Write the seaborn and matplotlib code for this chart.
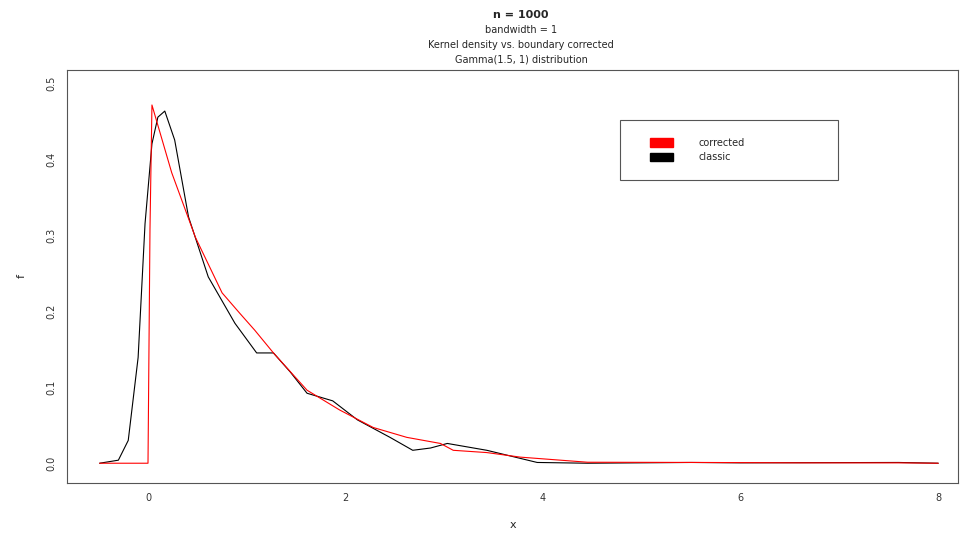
import numpy as np
import pandas as pd
import matplotlib
matplotlib.use("Agg")
import matplotlib.pyplot as plt
import seaborn as sns
from matplotlib.patches import Patch, Rectangle

# values
red_x = [-0.49, -0.01, 0.0, 0.02, 0.04, 0.24, 0.48, 0.75, 0.93, 1.08, 1.27, 1.61, 1.94,
         2.28, 2.62, 2.96, 3.09, 3.43, 3.77, 4.45, 5.59, 6.6, 7.6, 8.0]
red_y = [0.0, 0.0, 0.0, 0.307, 0.471, 0.382, 0.297, 0.224, 0.197, 0.175, 0.145, 0.096, 0.070,
         0.047, 0.034, 0.026, 0.017, 0.014, 0.008, 0.0013, 0.001, 0.0005, 0.0005, 0.0]

black_x = [-0.49, -0.30, -0.20, -0.10, -0.03, 0.04, 0.10, 0.17, 0.27, 0.41, 0.61, 0.88, 1.10,
           1.27, 1.44, 1.61, 1.87, 2.12, 2.45, 2.68, 2.86, 3.03, 3.43, 3.94, 4.45, 5.5, 6.0,
           7.6, 8.0]
black_y = [0.0, 0.004, 0.03, 0.139, 0.315, 0.42, 0.455, 0.463, 0.425, 0.324, 0.245, 0.184, 0.145,
           0.145, 0.12, 0.092, 0.082, 0.057, 0.034, 0.017, 0.020, 0.026, 0.017, 0.001, 0.0, 0.001,
           0.0005, 0.001, 0.0]

x_ticks = [0, 2, 4, 6, 8]
y_ticks = [0.0, 0.1, 0.2, 0.3, 0.4, 0.5]
legend_labels = ["corrected", "classic"]
title_lines = ["n = 1000", "bandwidth = 1", "Kernel density vs. boundary corrected",
               "Gamma(1.5, 1) distribution"]

sns.set_style("white")
plt.rcParams["font.family"] = ["DejaVu Sans"]

df_red = pd.DataFrame({"x": red_x, "y": red_y})
df_black = pd.DataFrame({"x": black_x, "y": black_y})

fig = plt.figure(figsize=(9.68, 5.44), dpi=100)
ax = fig.add_axes([67 / 968, 61 / 544, (958 - 67) / 968, (483 - 70) / 544])

sns.lineplot(data=df_black, x="x", y="y", color="black", lw=0.8, ax=ax, sort=False)
sns.lineplot(data=df_red, x="x", y="y", color="red", lw=0.8, ax=ax, sort=False)

ax.set_xlim(-0.82, 8.2)
ax.set_ylim(-0.026, 0.517)
ax.set_xticks(x_ticks)
ax.set_xticklabels([str(t) for t in x_ticks], fontsize=7)
ax.set_yticks(y_ticks)
ax.set_yticklabels([f"{t:.1f}" for t in y_ticks], fontsize=7, rotation=90, va="center")
ax.tick_params(direction="out", length=4, width=0.6, colors="#333333")
ax.set_xlabel("x", fontsize=8, labelpad=12)
ax.set_ylabel("f", fontsize=8, labelpad=14)
for s in ax.spines.values():
    s.set_color("#555555")
    s.set_linewidth(0.8)

# legend: entries without frame, box drawn separately to get the wide R-style box
handles = [Patch(facecolor="red", edgecolor="red"), Patch(facecolor="black", edgecolor="black")]
leg = ax.legend(handles, legend_labels, loc="upper left",
                bbox_to_anchor=((650 - 67) / 891, (483 - 138) / 413),
                fontsize=7, frameon=False, borderpad=0, handlelength=2.4, handleheight=1.0,
                handletextpad=2.6, labelspacing=0.45, borderaxespad=0)
fig.patches.append(Rectangle((620 / 968, 1 - 180 / 544), 218 / 968, 60 / 544,
                             transform=fig.transFigure, fill=False, edgecolor="#555555",
                             lw=0.8))

for i, line in enumerate(title_lines):
    fig.text(521 / 968, 1 - (15 + i * 15) / 544, line, ha="center", va="center",
             fontsize=8 if i == 0 else 7, fontweight="bold" if i == 0 else "normal")

fig.savefig("out.png", dpi=100)
